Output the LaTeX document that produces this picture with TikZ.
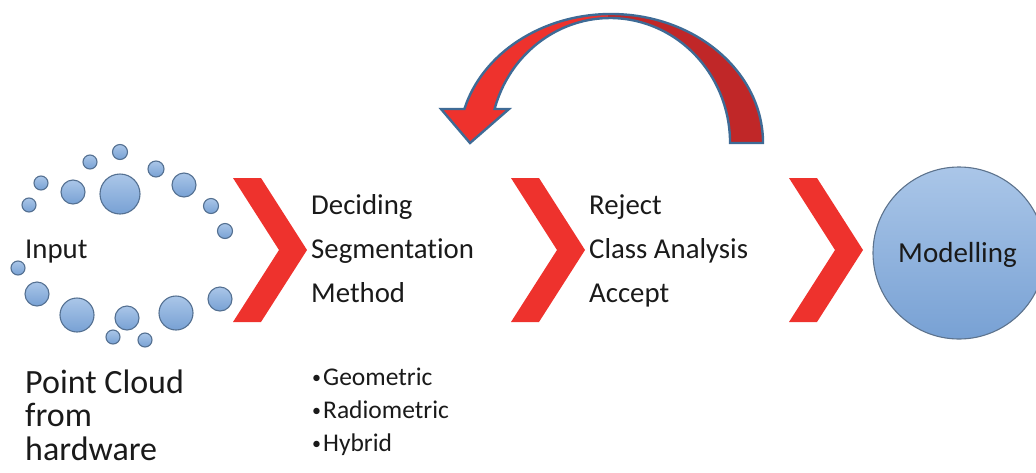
\documentclass[tikz,border=0pt]{standalone}
\usepackage{fontspec}
\setmainfont{Carlito}[Ligatures=NoCommon]
\begin{document}
\definecolor{chev}{RGB}{238,50,45}
\definecolor{arrowdark}{RGB}{192,39,40}
\definecolor{arrowedge}{RGB}{62,107,150}
\definecolor{bubtop}{RGB}{170,198,232}
\definecolor{bubbot}{RGB}{120,161,212}
\definecolor{bubedge}{RGB}{84,112,145}
\definecolor{txt}{RGB}{26,26,26}
\newcommand{\smallbullet}{\raisebox{1.5pt}{\fontsize{18}{18}\selectfont•}\hspace{2pt}}
\begin{tikzpicture}[x=1pt,y=-1pt,
  bubble/.style={circle,draw=bubedge,line width=1.1pt,top color=bubtop,bottom color=bubbot,inner sep=0pt,minimum size=#1},
  chevron/.style={fill=chev,draw=none},
  lbl/.style={anchor=base west,text=txt,inner sep=0pt,font=\fontsize{28.8}{33}\selectfont},
  bul/.style={anchor=base west,text=txt,inner sep=0pt,font=\fontsize{25.5}{29}\selectfont}]
\useasboundingbox (0,0) rectangle (1036,472);
\begin{scope}
\clip (0,0) rectangle (1036,472);

% point cloud bubbles
\foreach \x/\y/\r [count=\i] in {120/152/7.5, 90/162/7, 41/183/7, 29/205/7, 73/192/12,
   120/194/20, 156/169/8, 184/185/12, 211/206/7.5, 225/231/7.5, 18/268/7,
   37/294/12, 77/315/17, 127/318/12, 176/313/17, 220/299/12, 113/337/7, 145/340/7}
  \node[bubble=2*\r pt] (b\i) at (\x,\y) {};

% chevrons
\foreach \dx [count=\i] in {0,278,556}
  \fill[chevron] (233+\dx,178) -- (261+\dx,178) -- (307+\dx,250) -- (261+\dx,322)
     -- (233+\dx,322) -- (279+\dx,250) -- cycle;

% modelling circle
\node[circle,draw=bubedge!80!gray,line width=1.1pt,top color=bubtop,bottom color=bubbot,
  minimum size=172pt,inner sep=0pt] (model) at (959,253) {};
\node[text=txt,font=\fontsize{29}{33}\selectfont,anchor=base] (mtext) at (957.5,262) {Modelling};

% curved return arrow
\def\arrowpath{(763,143) arc[start angle=0,end angle=-164.7,x radius=152,y radius=129]
   -- (441,109) -- (470,143) -- (509,109) -- (494.6,109)
   arc[start angle=-164.2,end angle=0,x radius=120,y radius=125] -- cycle}
\fill[chev] \arrowpath;
\begin{scope}
  \clip (608,0) rectangle (800,160);
  \fill[arrowdark] \arrowpath;
\end{scope}
\draw[arrowedge,line width=2.4pt,line join=miter] \arrowpath;

% labels
\node[lbl] (inp) at (25,258) {Input};
\node[lbl] (d1) at (311,214) {Deciding};
\node[lbl] (d2) at (311,258) {Segmentation};
\node[lbl] (d3) at (311,302) {Method};
\node[lbl] (c1) at (589,214) {Reject};
\node[lbl] (c2) at (589,258) {Class Analysis};
\node[lbl] (c3) at (589,302) {Accept};
\node[anchor=base west,text=txt,inner sep=0pt,font=\fontsize{34}{33.5}\selectfont,align=left]
  (pc) at (25,460) {Point Cloud\\from\\hardware};
\node[bul] (g1) at (312,385) {\smallbullet Geometric};
\node[bul] (g2) at (312,418) {\smallbullet Radiometric};
\node[bul] (g3) at (312,451) {\smallbullet Hybrid};
\end{scope}
\end{tikzpicture}
\end{document}
